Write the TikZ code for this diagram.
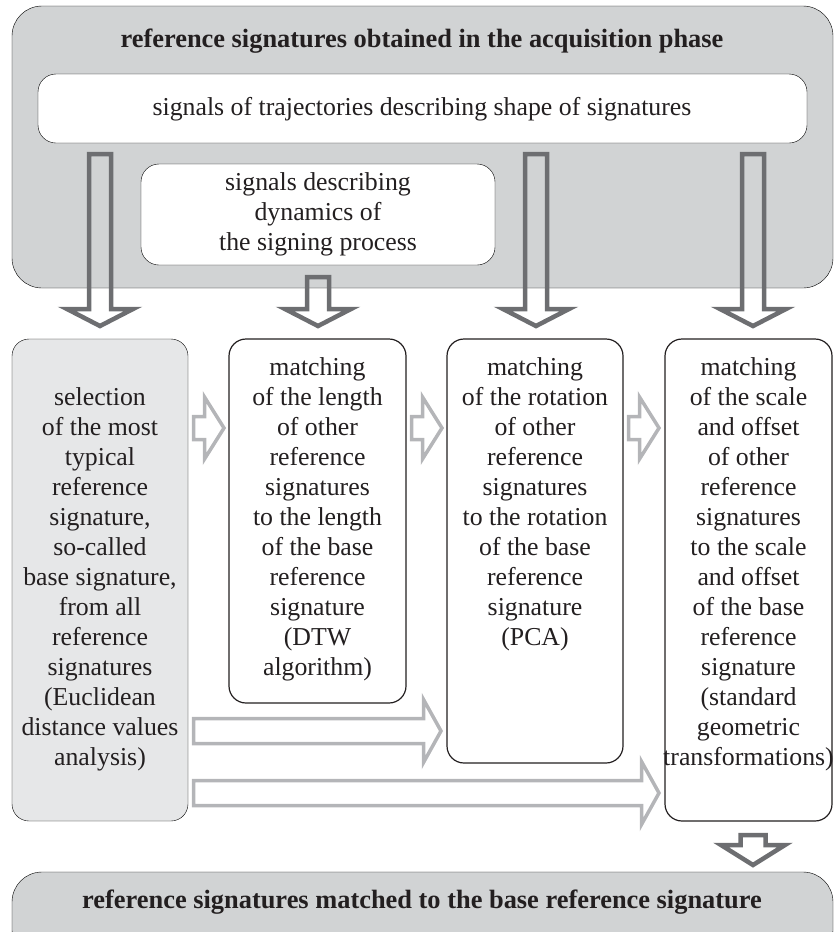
\documentclass[tikz,border=0pt]{standalone}
\usepackage{fontspec}
\setmainfont{Liberation Serif}
\definecolor{topgray}{HTML}{D1D3D4}
\definecolor{leftgray}{HTML}{E6E7E8}
\definecolor{darkarrow}{HTML}{6D6E71}
\definecolor{lightarrow}{HTML}{B4B5B8}
\definecolor{ink}{HTML}{231F20}
\newcommand\blockdown[7]{% style, xc, ytop, ybase, ytip, shafthalf, headhalf
  \draw[#1] (#2-#6,#3) -- (#2+#6,#3) -- (#2+#6,#4) -- (#2+#7,#4) -- (#2,#5)
    -- (#2-#7,#4) -- (#2-#6,#4) -- cycle;}
\newcommand\blockright[7]{% style, xstart, yc, xbase, xtip, shafthalf, headhalf
  \draw[#1] (#2,#3-#6) -- (#4,#3-#6) -- (#4,#3-#7) -- (#5,#3) -- (#4,#3+#7)
    -- (#4,#3+#6) -- (#2,#3+#6) -- cycle;}
\begin{document}
\begin{tikzpicture}[x=1pt,y=-1pt,
  txt/.style={align=center, inner sep=0pt, text=ink, font=\fontsize{25.8}{30}\selectfont},
  boldtxt/.style={txt, font=\fontsize{26.4}{30}\selectfont\bfseries},
  graypanel/.style={fill=topgray, rounded corners=30pt},
  whitepanel/.style={fill=white, rounded corners=18pt},
  mbox/.style={draw=ink, line width=1.2pt, rounded corners=17pt, fill=white},
  lbox/.style={fill=leftgray, rounded corners=17pt},
  darr/.style={draw=darkarrow, line width=4.5pt, line join=miter},
  larr/.style={draw=lightarrow, line width=3.5pt, line join=miter}]
\useasboundingbox (0,0) rectangle (833,932);
% top panel
\draw[graypanel] (12,6) rectangle (833,288);
\node[boldtxt, anchor=base] (title) at (422,47) {reference signatures obtained in the acquisition phase};
\draw[whitepanel] (38,74) rectangle (807,143);
\node[txt, anchor=base] (traj) at (422,115) {signals of trajectories describing shape of signatures};
\draw[whitepanel] (141,164) rectangle (495,265);
\node[txt, anchor=north] (dyn) at (318,172.5) {signals describing\\dynamics of\\the signing process};
% down arrows
\blockdown{darr}{100}{154}{309}{326}{11}{33}
\blockdown{darr}{318}{277}{309}{326}{11}{33}
\blockdown{darr}{536}{154}{309}{326}{11}{33}
\blockdown{darr}{753}{154}{309}{326}{11}{33}
% left box
\draw[lbox] (12,339) rectangle (188,821);
\node[txt, anchor=north] (sel) at (100,387.5) {selection\\of the most\\typical\\reference\\signature,\\so-called\\base signature,\\from all\\reference\\signatures\\(Euclidean\\distance values\\analysis)};
% matching boxes
\draw[mbox] (229,339) rectangle (406,703);
\node[txt, anchor=north] (dtw) at (317.5,357.5) {matching\\of the length\\of other\\reference\\signatures\\to the length\\of the base\\reference\\signature\\(DTW\\algorithm)};
\draw[mbox] (447,339) rectangle (623,763);
\node[txt, anchor=north] (pca) at (535,357.5) {matching\\of the rotation\\of other\\reference\\signatures\\to the rotation\\of the base\\reference\\signature\\(PCA)};
\draw[mbox] (665,339) rectangle (832,821);
\node[txt, anchor=north] (geo) at (748.5,357.5) {matching\\of the scale\\and offset\\of other\\reference\\signatures\\to the scale\\and offset\\of the base\\reference\\signature\\(standard\\geometric\\transformations)};
% small right arrows
\blockright{larr}{193.5}{428}{204.5}{224}{11.5}{31}
\blockright{larr}{411.5}{428}{422.5}{442}{11.5}{31}
\blockright{larr}{628.5}{428}{639.5}{659}{11.5}{31}
% long right arrows
\blockright{larr}{193.5}{731}{423.5}{441}{12.5}{31.5}
\blockright{larr}{193.5}{793}{641.5}{659}{12.5}{31.5}
% bottom
\blockdown{darr}{753}{835}{845}{865}{12.5}{32}
\draw[graypanel] (12,872) rectangle (833,960);
\node[boldtxt, anchor=base] (result) at (422,908) {reference signatures matched to the base reference signature};
\end{tikzpicture}
\end{document}
